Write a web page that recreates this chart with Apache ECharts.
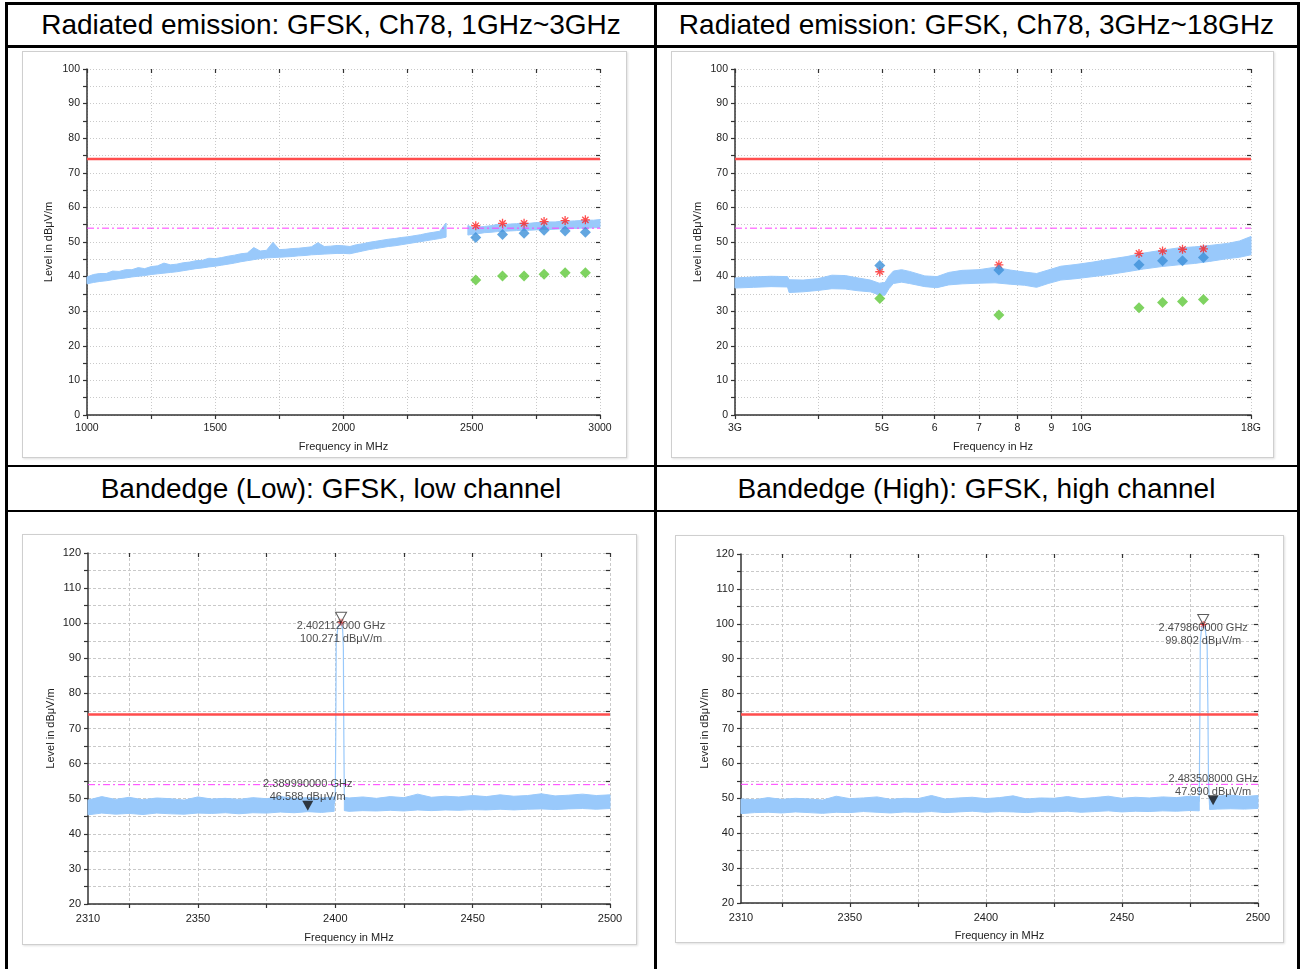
<!DOCTYPE html>
<html><head><meta charset="utf-8">
<script src="https://cdn.jsdelivr.net/npm/echarts@6/dist/echarts.min.js"></script>
<style>
html,body{margin:0;padding:0;background:#fff;}
#wrap{position:relative;width:1303px;height:969px;overflow:hidden;font-family:"Liberation Sans",Arial,sans-serif;}
.b{position:absolute;background:#000;}
.h{position:absolute;font-size:28px;color:#000;text-align:center;white-space:nowrap;}
.p{position:absolute;border:1.5px solid #cfcfcf;box-sizing:border-box;box-shadow:1px 1px 2px rgba(0,0,0,0.12);}
#chart{position:absolute;left:0;top:0;width:1303px;height:969px;}
</style></head>
<body><div id="wrap">
<div class="b" style="left:5px;top:2px;width:1295px;height:3px"></div>
<div class="b" style="left:5px;top:2px;width:3px;height:967px"></div>
<div class="b" style="left:1297px;top:2px;width:3px;height:967px"></div>
<div class="b" style="left:654px;top:2px;width:2.5px;height:967px"></div>
<div class="b" style="left:5px;top:45px;width:1295px;height:2.5px"></div>
<div class="b" style="left:5px;top:464.5px;width:1295px;height:2.5px"></div>
<div class="b" style="left:5px;top:509.5px;width:1295px;height:2.5px"></div>
<div class="h" style="left:8px;width:646px;top:5px;height:40px;line-height:40px">Radiated emission: GFSK, Ch78, 1GHz~3GHz</div>
<div class="h" style="left:656px;width:641px;top:5px;height:40px;line-height:40px">Radiated emission: GFSK, Ch78, 3GHz~18GHz</div>
<div class="h" style="left:8px;width:646px;top:467px;height:43px;line-height:43px">Bandedge (Low): GFSK, low channel</div>
<div class="h" style="left:656px;width:641px;top:467px;height:43px;line-height:43px">Bandedge (High): GFSK, high channel</div>
<div class="p" style="left:22px;top:51px;width:605px;height:407px"></div>
<div class="p" style="left:671px;top:51px;width:603px;height:407px"></div>
<div class="p" style="left:22px;top:534px;width:615px;height:411px"></div>
<div class="p" style="left:675px;top:535px;width:609px;height:408px"></div>
<div id="chart"></div>
</div>
<script>
// ---------- data ----------
const limitPK = 74;
const limitAV = 54;

// Top-left: 1 GHz ~ 3 GHz (MHz)
const tlFreq1 = [1000,1025,1050,1075,1100,1125,1150,1175,1200,1225,1250,1275,1300,1325,1350,1375,1400,1425,1450,1475,1500,1525,1550,1575,1600,1625,1650,1675,1700,1725,1750,1775,1800,1825,1850,1875,1900,1925,1950,1975,2000,2025,2050,2075,2100,2125,2150,2175,2200,2225,2250,2275,2300,2325,2350,2375,2400];
const tlLo1 = [37.9,38.3,38.6,38.8,39.1,39.4,39.6,39.9,40.1,40.3,40.6,40.8,41.0,41.2,41.4,41.7,42.0,42.3,42.5,42.8,43.0,43.3,43.6,43.9,44.3,44.6,44.9,45.2,45.4,45.5,45.6,45.7,45.8,46.0,46.1,46.3,46.4,46.5,46.6,46.7,46.7,46.6,47.0,47.4,47.8,48.1,48.4,48.7,48.9,49.2,49.5,49.8,50.1,50.4,50.7,51.0,51.4];
const tlHi1 = [39.9,40.6,40.9,40.9,41.6,41.5,42.0,42.0,42.6,42.3,42.9,43.1,43.9,43.4,43.6,44.0,44.2,44.6,44.7,45.3,45.2,45.5,45.9,46.2,46.6,46.8,48.4,47.4,47.6,49.9,47.8,47.9,48.1,48.2,48.4,48.6,49.8,48.7,48.8,49.0,48.9,48.7,49.2,49.5,49.9,50.2,50.5,50.8,51.0,51.3,51.5,51.8,52.1,52.5,52.8,53.1,55.5];
const tlFreq2 = [2485,2500,2525,2550,2575,2600,2625,2650,2675,2700,2725,2750,2775,2800,2825,2850,2875,2900,2925,2950,2975,3000];
const tlLo2 = [52.0,52.2,52.4,52.7,52.8,53.0,53.1,53.2,53.3,53.4,53.4,53.5,53.6,53.6,53.7,53.8,53.8,53.9,54.0,54.0,54.1,54.2];
const tlHi2 = [54.8,54.2,54.3,54.5,54.7,55.1,55.0,55.2,55.3,55.5,55.4,55.6,55.7,55.8,55.8,56.0,56.0,56.1,56.2,56.3,56.3,56.5];
const tlMarkFreq = [2515.6,2620,2704,2782,2864,2943];
const tlPeak = [54.7,55.4,55.4,55.9,56.2,56.4];
const tlQP = [51.3,52.2,52.5,53.4,53.2,52.8];
const tlAvg = [39.0,40.2,40.2,40.7,41.1,41.1];

// Top-right: 3 GHz ~ 18 GHz (GHz, log axis)
const trFreq = [3.0,3.2,3.4,3.6,3.62,3.8,4.0,4.2,4.4,4.6,4.8,4.95,5.05,5.12,5.2,5.35,5.5,5.8,6.05,6.3,6.6,7.0,7.4,7.8,8.2,8.55,8.9,9.3,9.8,10.4,11.0,11.7,12.4,13.2,14.0,14.8,15.6,16.6,17.3,18.0];
const trLo = [36.7,36.9,37.1,37.0,35.4,35.6,36.0,36.5,36.4,35.9,35.6,34.7,34.6,36.5,38.0,38.4,38.0,37.1,36.8,37.6,37.9,38.1,38.2,37.8,37.5,36.9,38.0,39.0,39.4,40.0,40.6,41.4,42.2,42.9,43.4,43.8,44.4,45.2,45.6,46.3];
const trHi = [39.6,39.9,40.1,40.0,39.1,39.0,39.4,40.4,40.3,39.6,39.0,38.1,38.3,40.2,41.6,42.0,41.5,40.2,40.0,41.2,41.8,42.0,42.7,41.9,41.3,40.9,41.9,43.0,43.5,44.2,45.0,45.8,46.8,47.6,48.3,48.6,49.0,49.6,50.3,51.6];
const trMarkFreq = [4.96,7.50,12.2,13.24,14.19,15.26];
const trPeak = [41.4,43.4,46.7,47.4,47.9,48.0];
const trQP = [43.2,41.9,43.4,44.6,44.6,45.5];
const trAvg = [33.7,28.9,31.0,32.5,32.8,33.4];
const trTicks = [3,4,5,6,7,8,9,10,18];
const trTickLabels = {3:'3G',5:'5G',6:'6',7:'7',8:'8',9:'9',10:'10G',18:'18G'};

// Bottom-left: band edge low (MHz)
const blFreq1 = [2310,2315,2320,2325,2330,2335,2340,2345,2350,2355,2360,2365,2370,2375,2380,2385,2390,2395,2399.6];
const blLo1 = [45.4,45.9,45.6,45.8,45.5,45.9,45.7,45.6,45.9,45.8,46.0,45.7,46.0,45.9,46.2,46.0,46.3,46.1,46.4];
const blHi1 = [49.6,50.6,49.8,50.4,49.7,50.2,50.0,49.6,50.5,49.9,50.1,49.8,50.3,50.0,50.6,50.1,50.3,50.2,50.5];
const blFreq2 = [2403.3,2405,2410,2415,2420,2425,2430,2435,2440,2445,2450,2455,2460,2465,2470,2475,2480,2485,2490,2495,2500];
const blLo2 = [46.6,46.4,46.6,46.5,46.7,46.5,46.8,46.6,46.8,46.7,46.9,46.8,47.0,46.8,47.0,47.1,46.9,47.1,47.2,47.0,47.2];
const blHi2 = [50.4,50.2,50.5,50.1,50.6,50.3,51.3,50.4,50.7,50.5,50.9,50.6,51.1,50.7,50.9,51.4,50.8,51.0,51.3,50.9,51.1];
const blPeakFreq = [2399.6,2400.0,2400.2,2400.35,2401.0,2402.112,2402.7,2402.95,2403.1,2403.3];
const blPeakVal = [48.5,50,70,95,99,100.271,98,93,70,50];
const blMarker1 = [2402.112,100.271];
const blMarker2 = [2389.99,46.588];

// Bottom-right: band edge high (MHz)
const brFreq1 = [2310,2315,2320,2325,2330,2335,2340,2345,2350,2355,2360,2365,2370,2375,2380,2385,2390,2395,2400,2405,2410,2415,2420,2425,2430,2435,2440,2445,2450,2455,2460,2465,2470,2475,2478.4];
const brLo1 = [45.6,45.9,46.0,45.8,46.1,45.9,45.7,46.0,45.9,46.2,46.0,45.8,46.1,46.0,46.2,45.9,46.1,46.3,46.0,46.2,46.1,45.9,46.2,46.1,46.3,46.0,46.2,46.4,46.1,46.3,46.2,46.4,46.3,46.5,46.4];
const brHi1 = [49.8,49.6,50.2,49.7,50.0,49.8,49.5,50.6,49.9,50.1,50.4,49.7,50.0,49.9,50.8,49.8,50.1,50.3,49.9,50.2,50.7,49.8,50.1,50.0,50.5,49.9,50.2,50.6,50.0,50.3,50.1,50.4,50.2,50.6,50.4];
const brFreq2 = [2482.2,2485,2490,2495,2500];
const brLo2 = [46.8,46.9,47.0,46.9,47.1];
const brHi2 = [50.2,50.6,50.9,50.5,50.8];
const brPeakFreq = [2478.4,2478.6,2478.8,2479.3,2479.86,2480.6,2481.3,2481.6,2481.8,2482.2];
const brPeakVal = [49,70,95,99,99.802,98.5,94,75,55,48];
const brMarker1 = [2479.86,99.802];
const brMarker2 = [2483.508,47.990];

const bottomTicks = [2325,2350,2375,2400,2425,2450,2475,2500];
const bottomLabels = [2310,2350,2400,2450,2500];

// ---------- styles ----------
const FONT = '"Liberation Sans", Arial, sans-serif';
const AX = '#333', LBL = '#222', GRIDC = '#c9c9c9';
const TRACE = '#99c9fb';
const RED = '#ff4d4d', MAG = '#ff3dff';
const STAR = 'path://M5,0L5,10M0,5L10,5M1.5,1.5L8.5,8.5M1.5,8.5L8.5,1.5';
const TRI = 'path://M0,0L10,0L5,9Z';

function xAxes(g, o) {
  const common = {gridIndex: g, type: o.type || 'value', min: o.min, max: o.max};
  if (o.logBase) common.logBase = o.logBase;
  if (o.interval) common.interval = o.interval;
  const tick = {show: true, length: 4, lineStyle: {color: AX, width: 1.2}};
  if (o.tickValues) tick.customValues = o.tickValues;
  const lab = {show: true, fontSize: o.fs, color: LBL, margin: o.margin, fontFamily: FONT, formatter: o.fmt};
  if (o.labelValues) lab.customValues = o.labelValues;
  const main = Object.assign({}, common, {
    axisLine: {show: true, onZero: false, lineStyle: {color: AX, width: 1.5}},
    axisTick: tick, axisLabel: lab,
    splitLine: {show: true, lineStyle: {color: GRIDC, width: 1, type: o.dash}},
    name: o.name, nameLocation: 'middle', nameGap: o.nameGap,
    nameTextStyle: {fontSize: 11, color: LBL, fontFamily: FONT}
  });
  const inner = Object.assign({}, common, {
    axisLine: {show: false, onZero: false}, axisTick: Object.assign({}, tick, {inside: true}),
    axisLabel: {show: false}, splitLine: {show: false}
  });
  return [main, inner];
}
function yAxes(g, o) {
  const common = {gridIndex: g, type: 'value', min: o.min, max: o.max, interval: 10};
  const tick = {show: true, length: 4, lineStyle: {color: AX, width: 1.2}};
  const minor = {show: true, splitNumber: 2, length: 4, lineStyle: {color: AX, width: 1.2}};
  const main = Object.assign({}, common, {
    axisLine: {show: true, onZero: false, lineStyle: {color: AX, width: 1.5}},
    axisTick: tick, minorTick: minor,
    axisLabel: {show: true, fontSize: o.fs, color: LBL, margin: o.margin, fontFamily: FONT},
    splitLine: {show: true, lineStyle: {color: GRIDC, width: 1, type: o.dash}},
    minorSplitLine: {show: true, lineStyle: {color: GRIDC, width: 1, type: o.dash}},
    name: 'Level in dBμV/m', nameLocation: 'middle', nameGap: o.nameGap, nameRotate: 90,
    nameTextStyle: {fontSize: 11, color: LBL, fontFamily: FONT}
  });
  const inner = Object.assign({}, common, {
    axisLine: {show: false, onZero: false}, axisTick: Object.assign({}, tick, {inside: true}),
    minorTick: minor, axisLabel: {show: false}, splitLine: {show: false}
  });
  return [main, inner];
}

// noise band of the measured trace: polygon between upper and lower envelope
function band(g, freq, lo, hi) {
  return {
    type: 'custom', xAxisIndex: 2*g, yAxisIndex: 2*g, silent: true, z: 2,
    data: freq.map((f, i) => [f, lo[i], hi[i]]),
    encode: {x: 0, y: [1, 2]},
    renderItem: function (params, api) {
      if (params.dataIndex !== 0) return null;
      const pts = [];
      for (let i = 0; i < freq.length; i++) pts.push(api.coord([freq[i], hi[i]]));
      for (let i = freq.length - 1; i >= 0; i--) pts.push(api.coord([freq[i], lo[i]]));
      return {type: 'polygon', shape: {points: pts},
              style: {fill: TRACE, stroke: TRACE, lineWidth: 1}};
    }
  };
}
function limits(g, xmin, xmax, pkName, avName) {
  return [
    {type: 'line', xAxisIndex: 2*g, yAxisIndex: 2*g, symbol: 'none', silent: true, z: 4,
     lineStyle: {color: RED, width: 2.5}, data: [[xmin, limitPK], [xmax, limitPK]],
     markLine: {silent: true, symbol: 'none', lineStyle: {opacity: 0}, data: [{yAxis: limitPK}],
       label: {position: 'insideEndTop', formatter: pkName, color: RED, fontSize: 11, fontFamily: FONT, distance: 2}}},
    {type: 'line', xAxisIndex: 2*g, yAxisIndex: 2*g, symbol: 'none', silent: true, z: 4,
     lineStyle: {color: MAG, width: 1, type: [7, 3, 2, 3]}, data: [[xmin, limitAV], [xmax, limitAV]],
     markLine: {silent: true, symbol: 'none', lineStyle: {opacity: 0}, data: [{yAxis: limitAV}],
       label: {position: 'insideEndTop', formatter: avName, color: MAG, fontSize: 11, fontFamily: FONT, distance: 2}}}
  ];
}
function finals(g, freq, pk, qp, av) {
  return [
    {type: 'scatter', xAxisIndex: 2*g, yAxisIndex: 2*g, symbol: STAR, symbolSize: 9, z: 6,
     itemStyle: {color: 'rgba(0,0,0,0)', borderColor: '#ff2222', borderWidth: 1.3},
     data: freq.map((f, i) => [f, pk[i]])},
    {type: 'scatter', xAxisIndex: 2*g, yAxisIndex: 2*g, symbol: 'diamond', symbolSize: 11, z: 6,
     itemStyle: {color: '#5fc83a'}, data: freq.map((f, i) => [f, av[i]])},
    {type: 'scatter', xAxisIndex: 2*g, yAxisIndex: 2*g, symbol: 'diamond', symbolSize: 11, z: 7,
     itemStyle: {color: '#3c90d8'}, data: freq.map((f, i) => [f, qp[i]])}
  ];
}
function mlabel(p) {
  return (p[0] / 1000).toFixed(9) + ' GHz\n' + p[1].toFixed(3) + ' dBμV/m';
}
function markers(g, m1, m2, peakF, peakV) {
  return [
    {type: 'line', xAxisIndex: 2*g, yAxisIndex: 2*g, symbol: 'none', silent: true, z: 3,
     lineStyle: {color: TRACE, width: 1.2}, data: peakF.map((f, i) => [f, peakV[i]])},
    {type: 'scatter', xAxisIndex: 2*g, yAxisIndex: 2*g, symbol: STAR, symbolSize: 7, z: 8,
     itemStyle: {color: 'rgba(0,0,0,0)', borderColor: '#ee2222', borderWidth: 1}, data: [m1]},
    {type: 'scatter', xAxisIndex: 2*g, yAxisIndex: 2*g, symbol: TRI, symbolSize: [11, 10], symbolOffset: [0, -5], z: 9,
     itemStyle: {color: 'rgba(255,255,255,0)', borderColor: '#333', borderWidth: 1},
     label: {show: true, position: 'bottom', distance: -3, formatter: () => mlabel(m1), fontSize: 11, lineHeight: 13, color: LBL, fontFamily: FONT},
     data: [m1]},
    {type: 'scatter', xAxisIndex: 2*g, yAxisIndex: 2*g, symbol: TRI, symbolSize: [11, 10], symbolOffset: [0, -5], z: 9,
     itemStyle: {color: '#111'},
     label: {show: true, position: 'top', distance: -3, formatter: () => mlabel(m2), fontSize: 11, lineHeight: 13, color: LBL, fontFamily: FONT},
     data: [m2]}
  ];
}

const option = {
  animation: false,
  textStyle: {fontFamily: FONT},
  grid: [
    {left: 87, top: 69, width: 513, height: 346},
    {left: 735, top: 69, width: 516, height: 346},
    {left: 88, top: 553, width: 522, height: 351},
    {left: 741, top: 554, width: 517, height: 349}
  ],
  xAxis: [].concat(
    xAxes(0, {min: 1000, max: 3000, interval: 250, fs: 10.5, margin: 8, dash: [1, 2], name: 'Frequency in MHz', nameGap: 26,
      fmt: v => (v % 500 === 0 ? String(v) : '')}),
    xAxes(1, {type: 'log', logBase: 10, min: 3, max: 18, tickValues: trTicks, labelValues: trTicks.filter(t => trTickLabels[t]),
      fs: 10.5, margin: 8, dash: [1, 2], name: 'Frequency in Hz', nameGap: 26,
      fmt: v => trTickLabels[Math.round(v)] || ''}),
    xAxes(2, {min: 2310, max: 2500, tickValues: bottomTicks, labelValues: bottomLabels, fs: 11, margin: 9, dash: [3, 2],
      name: 'Frequency in MHz', nameGap: 28, fmt: v => String(Math.round(v))}),
    xAxes(3, {min: 2310, max: 2500, tickValues: bottomTicks, labelValues: bottomLabels, fs: 11, margin: 9, dash: [3, 2],
      name: 'Frequency in MHz', nameGap: 27, fmt: v => String(Math.round(v))})
  ),
  yAxis: [].concat(
    yAxes(0, {min: 0, max: 100, fs: 10.5, margin: 7, dash: [1, 2], nameGap: 33}),
    yAxes(1, {min: 0, max: 100, fs: 10.5, margin: 7, dash: [1, 2], nameGap: 32}),
    yAxes(2, {min: 20, max: 120, fs: 11, margin: 7, dash: [3, 2], nameGap: 32}),
    yAxes(3, {min: 20, max: 120, fs: 11, margin: 7, dash: [3, 2], nameGap: 31})
  ),
  series: [].concat(
    band(0, tlFreq1, tlLo1, tlHi1), band(0, tlFreq2, tlLo2, tlHi2),
    limits(0, 1000, 3000, 'FCC RE  PK', 'FCC RE  AV'),
    finals(0, tlMarkFreq, tlPeak, tlQP, tlAvg),
    band(1, trFreq, trLo, trHi),
    limits(1, 3, 18, 'FCC RE  PK', 'FCC RE  AV'),
    finals(1, trMarkFreq, trPeak, trQP, trAvg),
    band(2, blFreq1, blLo1, blHi1), band(2, blFreq2, blLo2, blHi2),
    limits(2, 2310, 2500, 'FCC RE IDLE PK', 'FCC RE IDLE AV'),
    markers(2, blMarker1, blMarker2, blPeakFreq, blPeakVal),
    band(3, brFreq1, brLo1, brHi1), band(3, brFreq2, brLo2, brHi2),
    limits(3, 2310, 2500, 'FCC RE IDLE PK', 'FCC RE IDLE AV'),
    markers(3, brMarker1, brMarker2, brPeakFreq, brPeakVal)
  )
};
const chart = echarts.init(document.getElementById('chart'), null, {renderer: 'canvas'});
chart.setOption(option);
</script>
</body></html>
